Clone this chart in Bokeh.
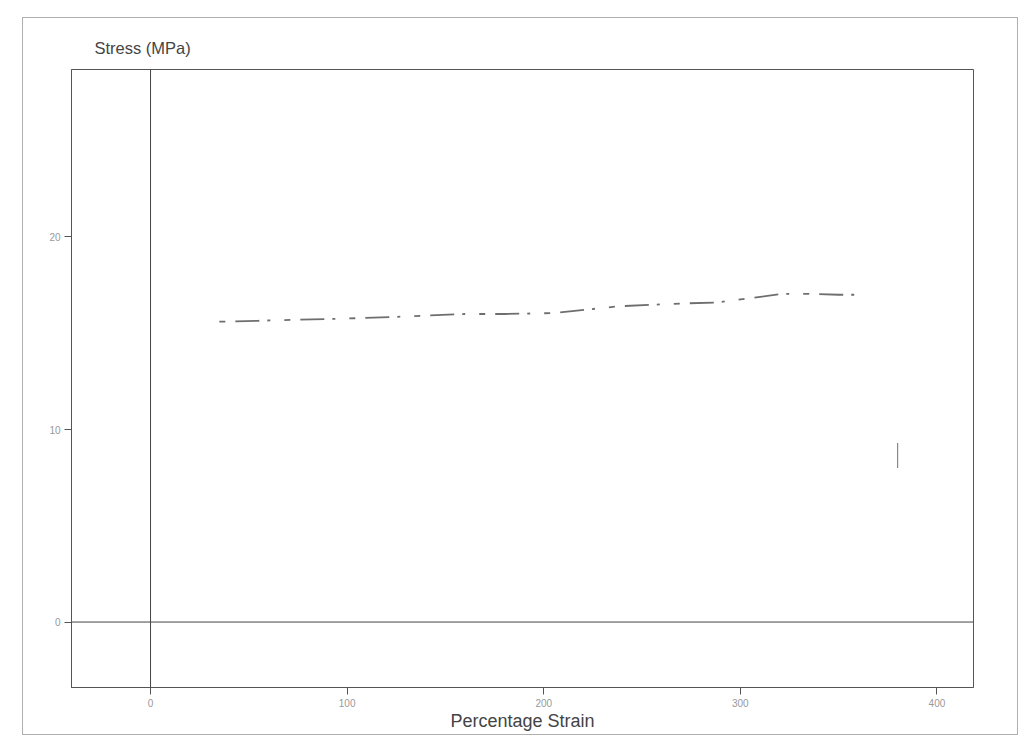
from bokeh.plotting import figure
from bokeh.models import FixedTicker, Span, Range1d
from bokeh.embed import file_html
from bokeh.resources import INLINE

# Data read from the (faint, scanned) stress-strain curve
strain = [35, 55, 74, 95, 125, 160, 180, 205, 238, 271, 288, 322, 334, 350, 359]
stress = [15.6, 15.65, 15.7, 15.75, 15.85, 16.0, 16.0, 16.05, 16.4, 16.55, 16.6, 17.05, 17.05, 17.0, 17.0]
break_strain = [380, 380]
break_stress = [8.0, 9.3]

x_ticks = [0, 100, 200, 300, 400]
y_ticks = [0, 10, 20]

p = figure(
    frame_width=902, frame_height=618,
    min_border_left=48, min_border_right=44, min_border_top=51, min_border_bottom=47,
    x_range=Range1d(-40.2, 418.6), y_range=Range1d(-3.4, 28.7),
    output_backend="svg", toolbar_location=None,
    title="Stress (MPa)",
)
p.margin = (17, 0, 0, 22)
p.styles = {"border": "1px solid #b0b0b0"}

p.title.align = "left"
p.title.offset = 23
p.title.standoff = 25
p.title.text_font = "Liberation Sans"
p.title.text_font_size = "16.5px"
p.title.text_font_style = "normal"
p.title.text_color = "#444444"

p.outline_line_color = "#555555"
p.outline_line_width = 1
p.xgrid.visible = False
p.ygrid.visible = False

for ax in (p.xaxis, p.yaxis):
    ax.axis_line_color = "#555555"
    ax.major_tick_line_color = "#555555"
    ax.major_tick_in = 0
    ax.major_tick_out = 7
    ax.minor_tick_line_color = None
    ax.major_label_text_font = "Liberation Sans"
    ax.major_label_text_font_size = "10px"
    ax.major_label_text_color = "#999999"
    ax.major_label_standoff = 4

p.xaxis.ticker = FixedTicker(ticks=x_ticks)
p.yaxis.ticker = FixedTicker(ticks=y_ticks)
p.xaxis.axis_label = "Percentage Strain"
p.xaxis.axis_label_text_font = "Liberation Sans"
p.xaxis.axis_label_text_font_size = "18px"
p.xaxis.axis_label_text_font_style = "normal"
p.xaxis.axis_label_text_color = "#444444"
p.xaxis.axis_label_standoff = 1

p.add_layout(Span(location=0, dimension="height", line_color="#444444", line_width=1))
p.add_layout(Span(location=0, dimension="width", line_color="#444444", line_width=1))

p.line(strain, stress, line_color="#555555", line_width=1.8, line_dash="6 10 24 8 3 14", line_alpha=0.85)
p.line(break_strain, break_stress, line_color="#888888", line_width=1.2)

open("out.html", "w").write(file_html(p, INLINE))
